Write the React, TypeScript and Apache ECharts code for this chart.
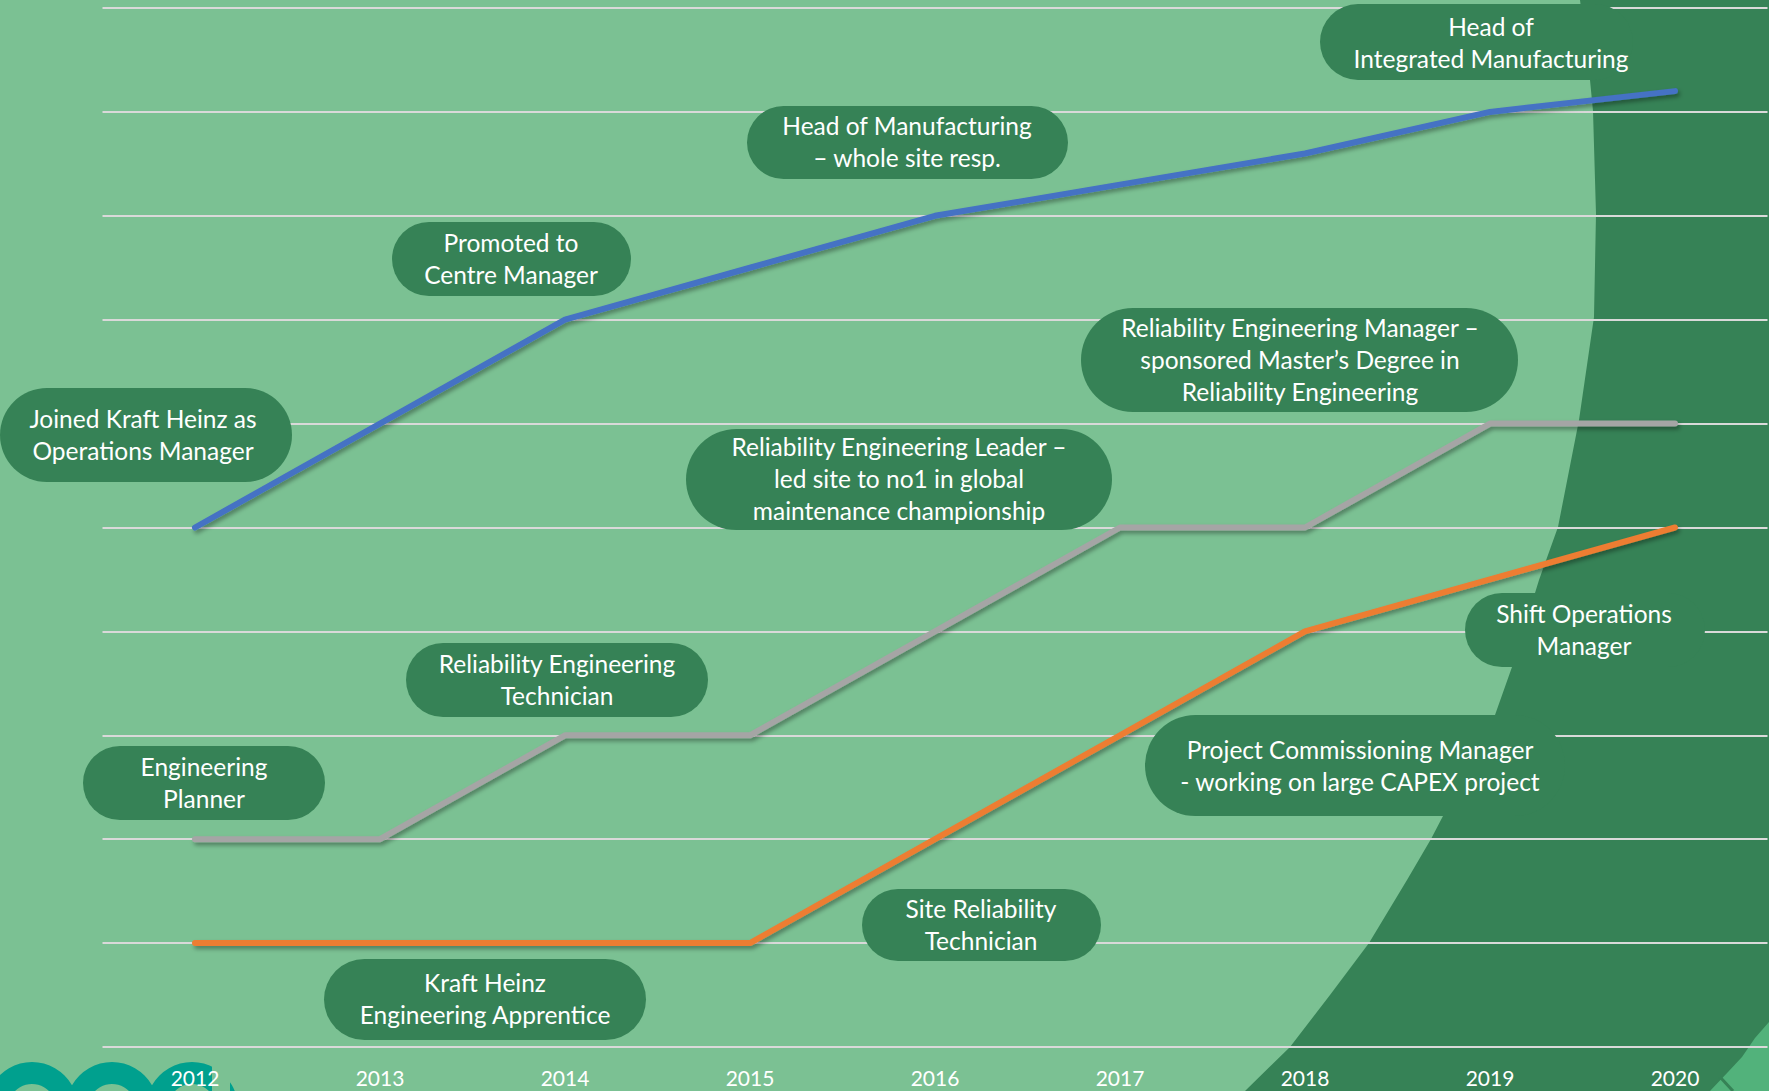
import React, { useEffect, useRef } from 'react';
import * as echarts from 'echarts';

const years = ['2012', '2013', '2014', '2015', '2016', '2017', '2018', '2019', '2020'];
const managementPath = [5, 6, 7, 7.5, 8, 8.3, 8.6, 9, 9.2];
const reliabilityPath = [2, 2, 3, 3, 4, 5, 5, 6, 6];
const engineeringPath = [1, 1, 1, 1, 2, 3, 4, 4.5, 5];

const LIGHT = '#7BC193';
const DARK = '#368256';
const TEAL = '#00A08E';
const FONT = 'Lato, "Open Sans", sans-serif';

// annotation pills: [x, y, w, h, textCenterX, textCenterY, text]
const pills: [number, number, number, number, number, number, string][] = [
  [0, 388, 292, 94, 143, 434, 'Joined Kraft Heinz as\nOperations Manager'],
  [392, 222, 239, 74, 511, 258, 'Promoted to\nCentre Manager'],
  [747, 106, 321, 73, 907, 141, 'Head of Manufacturing\n\u2013 whole site resp.'],
  [1320, 4, 313, 76, 1491, 42, 'Head of\nIntegrated Manufacturing'],
  [1081, 308, 437, 104, 1300, 359, 'Reliability Engineering Manager \u2013\nsponsored Master\u2019s Degree in\nReliability Engineering'],
  [686, 429, 426, 101, 899, 478, 'Reliability Engineering Leader \u2013\nled site to no1 in global\nmaintenance championship'],
  [406, 643, 302, 74, 557, 679, 'Reliability Engineering\nTechnician'],
  [83, 746, 242, 74, 204, 782, 'Engineering\nPlanner'],
  [862, 889, 239, 72, 981, 924, 'Site Reliability\nTechnician'],
  [324, 959, 322, 81, 485, 998, 'Kraft Heinz\nEngineering Apprentice'],
  [1465, 593, 240, 74, 1584, 629, 'Shift Operations\nManager'],
  [1145, 715, 420, 101, 1360, 765, 'Project Commissioning Manager\n- working on large CAPEX project'],
];

const darkShape = [
  [1580, 0], [1590, 80], [1593, 111], [1596, 214], [1594, 317], [1579, 420],
  [1558, 527], [1539, 580], [1535, 593], [1512, 667], [1495, 715], [1468, 765],
  [1443, 816], [1431, 839], [1407, 880], [1369, 943], [1330, 995], [1290, 1047],
  [1245, 1091], [1769, 1091], [1769, 0],
];

const cornerShape = [
  [1769, 1022], [1755, 1038], [1742, 1057], [1728, 1072], [1710, 1091], [1769, 1091],
];

export default function App() {
  const ref = useRef<HTMLDivElement>(null);
  useEffect(() => {
    document.body.style.margin = '0';
    const chart = echarts.init(ref.current!, null, { renderer: 'svg' });

    const lineSeries = (name: string, data: number[], color: string) => ({
      name,
      type: 'line',
      data,
      symbol: 'none',
      z: 2,
      lineStyle: {
        color,
        width: 6,
        cap: 'round',
        join: 'round',
        shadowColor: 'rgba(0,0,0,0.35)',
        shadowBlur: 4,
        shadowOffsetX: 2,
        shadowOffsetY: 3,
      },
    });

    const graphics: any[] = [
      { type: 'polygon', shape: { points: darkShape }, style: { fill: DARK }, z: -1, silent: true },
      { type: 'polygon', shape: { points: cornerShape }, style: { fill: '#52B27B' }, z: -1, silent: true },
      { type: 'line', shape: { x1: 1720, y1: 1077, x2: 1733, y2: 1091 }, style: { stroke: DARK, lineWidth: 3 }, z: -1, silent: true },
      { type: 'ring', shape: { cx: 32, cy: 1108, r: 46, r0: 24 }, style: { fill: TEAL }, z: -1, silent: true },
      { type: 'ring', shape: { cx: 112, cy: 1108, r: 46, r0: 24 }, style: { fill: TEAL }, z: -1, silent: true },
      { type: 'ring', shape: { cx: 192, cy: 1108, r: 46, r0: 24 }, style: { fill: TEAL }, z: -1, silent: true },
      { type: 'rect', shape: { x: 212, y: 1055, width: 18, height: 36 }, style: { fill: LIGHT }, z: -1, silent: true },
    ];
    pills.forEach(([x, y, w, h, tx, ty, text]) => {
      graphics.push({
        type: 'rect',
        shape: { x, y, width: w, height: h, r: h / 2 },
        style: { fill: DARK },
        z: 1,
        silent: true,
      });
      graphics.push({
        type: 'text',
        x: tx,
        y: ty,
        style: {
          text,
          fill: '#FFFFFF',
          fontSize: 24.5,
          fontFamily: FONT,
          lineHeight: 32,
          align: 'center',
          verticalAlign: 'middle',
        },
        z: 3,
        silent: true,
      });
    });

    chart.setOption({
      animation: false,
      backgroundColor: LIGHT,
      grid: { left: 102.5, right: 1.5, top: 8, bottom: 44, containLabel: false },
      xAxis: {
        type: 'category',
        data: years,
        boundaryGap: true,
        axisLine: { show: false },
        axisTick: { show: false },
        splitLine: { show: false },
        axisLabel: { color: '#FFFFFF', fontSize: 21, fontFamily: FONT, margin: 20 },
      },
      yAxis: {
        type: 'value',
        min: 0,
        max: 10,
        interval: 1,
        axisLine: { show: false },
        axisTick: { show: false },
        axisLabel: { show: false },
        splitLine: { show: true, lineStyle: { color: '#D9D9D9', width: 2 } },
      },
      series: [
        lineSeries('Engineering', engineeringPath, '#ED7D31'),
        lineSeries('Reliability', reliabilityPath, '#A5A5A5'),
        lineSeries('Management', managementPath, '#4472C4'),
      ],
      graphic: { elements: graphics },
    });

    return () => chart.dispose();
  }, []);
  return <div ref={ref} style={{ position: 'fixed', left: 0, top: 0, width: 1769, height: 1091 }} />;
}
